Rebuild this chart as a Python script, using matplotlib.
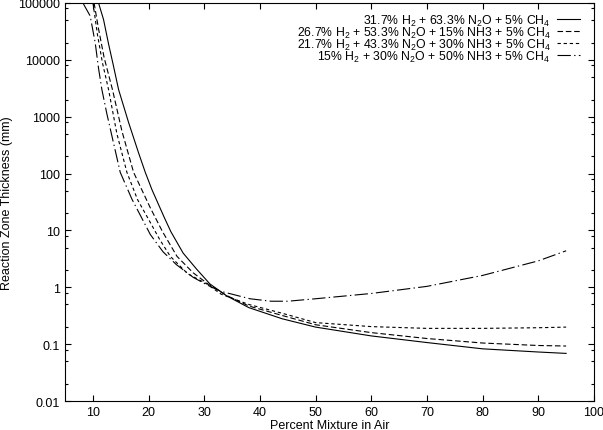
import matplotlib
matplotlib.use("Agg")
import matplotlib.pyplot as plt
from matplotlib.ticker import LogLocator, FixedLocator, FuncFormatter, NullFormatter

plt.rcParams['font.family'] = ['Liberation Sans', 'DejaVu Sans']
plt.rcParams['mathtext.default'] = 'regular'

# 31.7% H2 + 63.3% N2O + 5% CH4
x_a = [11.0, 11.9, 12.8, 13.6, 14.6, 16.4, 18.2, 19.4, 20.6, 22.8, 24.0, 26.2, 28.6,
       31.0, 34.0, 38.0, 44.0, 50, 60, 70, 80, 90, 95]
y_a = [100000, 51000, 19000, 8500, 3000, 790, 230, 105, 52, 17, 9.5, 4.0, 2.1,
       1.15, 0.71, 0.44, 0.28, 0.20, 0.14, 0.107, 0.083, 0.073, 0.069]

# 26.7% H2 + 53.3% N2O + 15% NH3 + 5% CH4
x_b = [10.2, 11.0, 12.0, 13.5, 15.2, 17.3, 20.3, 22.5, 25.1, 28.0, 30.7, 34, 38, 44,
       50, 60, 70, 80, 90, 95]
y_b = [100000, 35000, 11000, 3000, 560, 105, 25, 9.5, 3.5, 1.8, 1.14, 0.72, 0.47, 0.32,
       0.22, 0.16, 0.126, 0.105, 0.095, 0.093]

# 21.7% H2 + 43.3% N2O + 30% NH3 + 5% CH4
x_c = [10.0, 10.8, 11.7, 12.8, 14.3, 16.1, 18.0, 20.3, 22.0, 23.9, 27.0, 30.5, 33, 38,
       44, 50, 60, 70, 80, 90, 95]
y_c = [100000, 28000, 8900, 3000, 500, 105, 35, 13.8, 6.9, 3.5, 1.74, 1.14, 0.76, 0.50,
       0.35, 0.24, 0.204, 0.19, 0.19, 0.195, 0.20]

# 15% H2 + 30% N2O + 50% NH3 + 5% CH4
x_d = [8.3, 9.5, 10.4, 11.0, 11.6, 12.5, 13.5, 14.9, 17.0, 20.3, 22.6, 25.0, 28.0, 30.5,
       33, 38.2, 42, 45, 50, 60, 70, 80, 90, 95]
y_d = [95500, 58900, 20000, 7100, 3000, 1120, 417, 105, 35.5, 8.5, 4.2, 2.5, 1.5, 1.1,
       0.85, 0.63, 0.57, 0.57, 0.63, 0.78, 1.04, 1.62, 2.92, 4.39]

labels = [r"31.7% H$_2$ + 63.3% N$_2$O + 5% CH$_4$",
          r"26.7% H$_2$ + 53.3% N$_2$O + 15% NH3 + 5% CH$_4$",
          r"21.7% H$_2$ + 43.3% N$_2$O + 30% NH3 + 5% CH$_4$",
          r"15% H$_2$ + 30% N$_2$O + 50% NH3 + 5% CH$_4$"]

x_ticks = [10, 20, 30, 40, 50, 60, 70, 80, 90, 100]

fig = plt.figure(figsize=(6.03, 4.31), dpi=100)
ax = fig.add_axes([0.108, 0.067, 0.877, 0.924])

lw = 0.8
ax.plot(x_a, y_a, color='black', lw=lw, label=labels[0])
ax.plot(x_b, y_b, color='black', lw=lw, linestyle=(0, (5, 2.5)), label=labels[1])
ax.plot(x_c, y_c, color='black', lw=lw, linestyle=(0, (3, 2.5)), label=labels[2])
ax.plot(x_d, y_d, color='black', lw=lw, linestyle=(0, (12, 3, 1.2, 3)), label=labels[3])

ax.set_yscale('log')
ax.set_xlim(5, 100)
ax.set_ylim(0.01, 100000)
ax.xaxis.set_major_locator(FixedLocator(x_ticks))
ax.yaxis.set_major_locator(LogLocator(base=10, numticks=20))
ax.yaxis.set_minor_locator(LogLocator(base=10, subs=(2, 5, 8), numticks=20))
ax.yaxis.set_major_formatter(FuncFormatter(lambda v, p: '%g' % v))
ax.yaxis.set_minor_formatter(NullFormatter())

ax.tick_params(which='both', direction='in', top=True, right=True, labelsize=9, width=0.8)
ax.tick_params(which='major', length=4.5)
ax.tick_params(which='minor', length=2.5)
for s in ax.spines.values():
    s.set_linewidth(0.8)

ax.set_xlabel("Percent Mixture in Air", fontsize=9, labelpad=1)
ax.set_ylabel("Reaction Zone Thickness (mm)", fontsize=9, labelpad=4)

ax.legend(loc='upper right', bbox_to_anchor=(0.99, 0.997), frameon=False, markerfirst=False,
          fontsize=8.8, handlelength=1.9, handletextpad=0.5, labelspacing=-0.25,
          borderaxespad=0.3)

fig.savefig("out.png", dpi=100)
